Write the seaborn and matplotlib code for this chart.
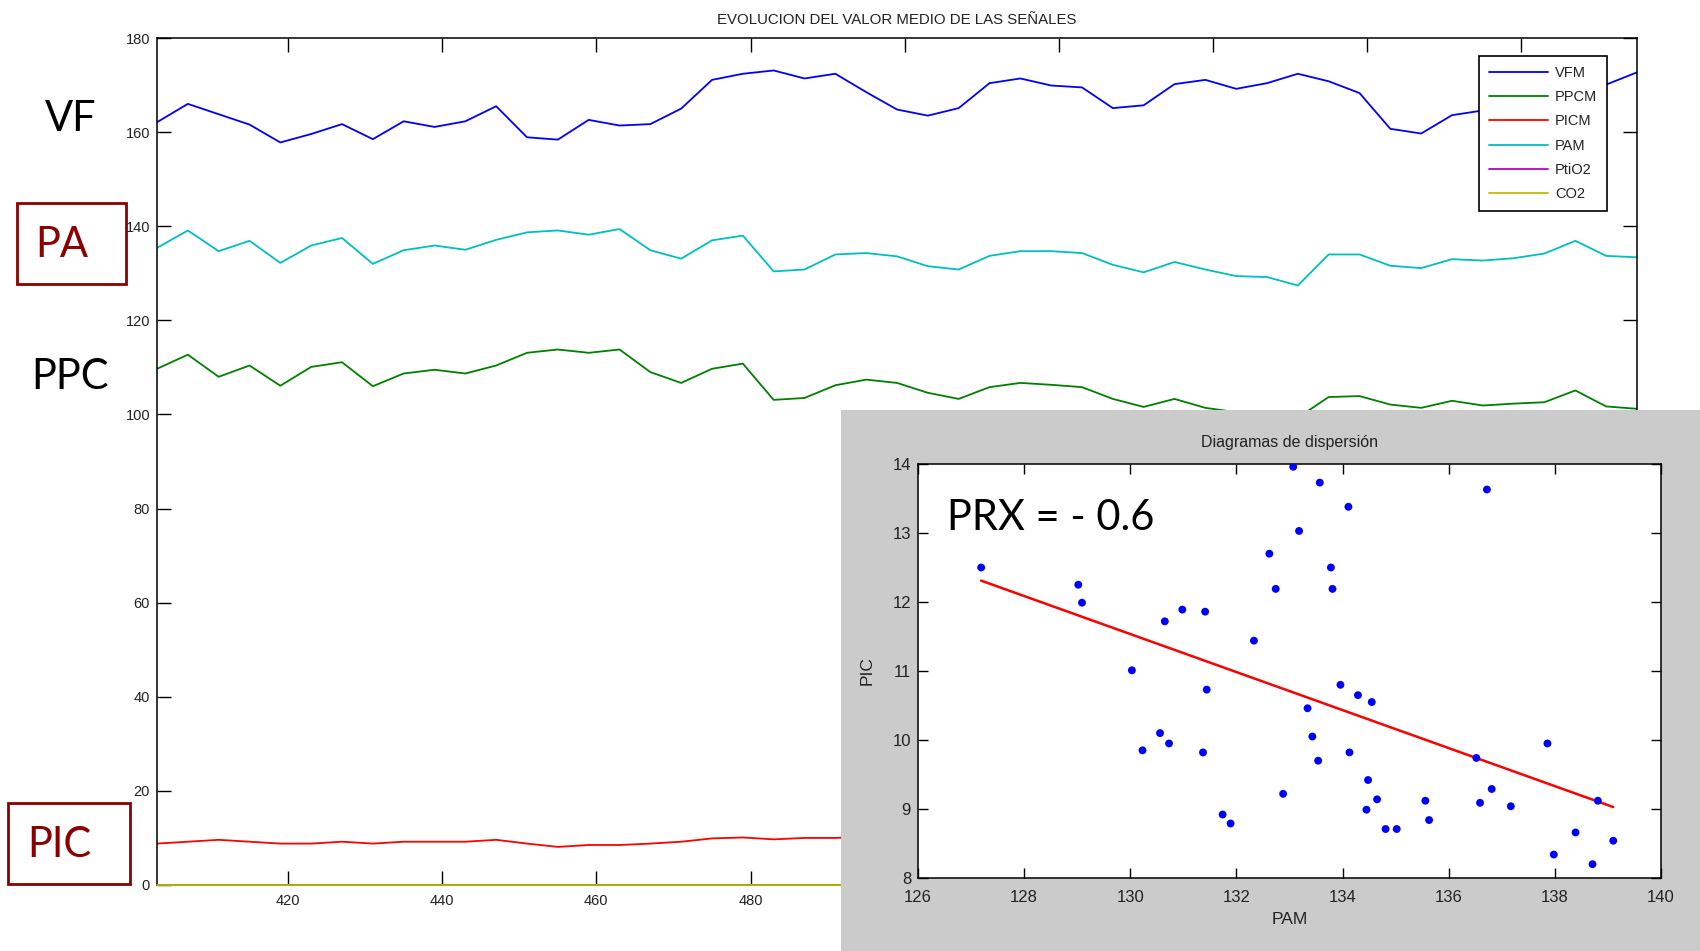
import numpy as np
import pandas as pd
import matplotlib
matplotlib.use("Agg")
import matplotlib.pyplot as plt
import seaborn as sns
from matplotlib.patches import Rectangle

# ---------------- data ----------------
time = np.arange(403, 596, 4)  # 49 samples

vfm = [162.1, 166.0, 163.8, 161.6, 157.8, 159.6, 161.7, 158.5, 162.3, 161.1,
       162.3, 165.5, 158.9, 158.4, 162.6, 161.4, 161.7, 165.0, 171.1, 172.4,
       173.1, 171.4, 172.4, 168.5, 164.8, 163.5, 165.1, 170.4, 171.4, 169.9,
       169.5, 165.1, 165.7, 170.2, 171.1, 169.2, 170.4, 172.4, 170.8, 168.3,
       160.7, 159.7, 163.6, 164.6, 165.0, 166.5, 168.0, 170.1, 172.7]

ppcm = [109.7, 112.7, 108.0, 110.4, 106.1, 110.1, 111.1, 106.0, 108.7, 109.5,
        108.7, 110.4, 113.1, 113.8, 113.1, 113.8, 109.0, 106.7, 109.7, 110.8,
        103.1, 103.5, 106.2, 107.4, 106.7, 104.6, 103.3, 105.8, 106.7, 106.3,
        105.8, 103.3, 101.6, 103.3, 101.4, 100.5, 100.3, 99.3, 103.7, 103.9,
        102.1, 101.4, 102.9, 101.9, 102.3, 102.6, 105.1, 101.7, 101.2]

picm = [8.8, 9.2, 9.6, 9.2, 8.8, 8.8, 9.2, 8.8, 9.2, 9.2,
        9.2, 9.6, 8.8, 8.1, 8.5, 8.5, 8.8, 9.2, 9.9, 10.1,
        9.7, 10.0, 10.0, 10.3, 10.8, 11.2, 10.6, 10.1, 9.8, 10.4,
        10.9, 11.5, 12.2, 11.0, 10.5, 10.2, 9.6, 9.1, 9.4, 9.0,
        8.8, 9.1, 9.3, 8.9, 8.6, 8.4, 8.3, 8.6, 8.5]

pam = [135.4, 139.1, 134.7, 136.9, 132.2, 135.9, 137.5, 132.0, 134.9, 135.9,
       135.0, 137.1, 138.7, 139.1, 138.2, 139.4, 134.9, 133.1, 137.0, 138.0,
       130.4, 130.8, 134.0, 134.3, 133.6, 131.5, 130.8, 133.7, 134.7, 134.7,
       134.3, 131.8, 130.2, 132.4, 130.8, 129.4, 129.2, 127.4, 134.0, 134.0,
       131.6, 131.1, 133.0, 132.7, 133.2, 134.2, 136.9, 133.7, 133.4]

ptio2 = [0.0] * 49
co2 = [0.0] * 49

# scatter (PAM vs PIC)
sc_pam = [127.19, 129.02, 129.09, 130.03, 130.23, 130.56, 130.65, 130.73, 130.98, 131.37,
          131.41, 131.44, 131.74, 131.89, 132.33, 132.62, 132.74, 132.88, 133.07, 133.18,
          133.34, 133.43, 133.54, 133.57, 133.78, 133.81, 133.96, 134.11, 134.13, 134.29,
          134.45, 134.48, 134.55, 134.65, 134.81, 135.02, 135.56, 135.63, 136.52, 136.59,
          136.72, 136.81, 137.17, 137.86, 137.98, 138.39, 138.71, 138.81, 139.10]
sc_pic = [12.50, 12.25, 11.99, 11.01, 9.85, 10.10, 11.72, 9.95, 11.89, 9.82,
          11.86, 10.73, 8.92, 8.79, 11.44, 12.70, 12.19, 9.22, 13.96, 13.03,
          10.46, 10.05, 9.70, 13.73, 12.50, 12.19, 10.80, 13.38, 9.82, 10.65,
          8.99, 9.42, 10.55, 9.14, 8.71, 8.71, 9.12, 8.84, 9.74, 9.09,
          13.63, 9.29, 9.04, 9.95, 8.34, 8.66, 8.20, 9.12, 8.54]

main_yticks = [0, 20, 40, 60, 80, 100, 120, 140, 160, 180]
main_xticks = [420, 440, 460, 480, 500, 520, 540, 560, 580]
sc_xticks = [126, 128, 130, 132, 134, 136, 138, 140]
sc_yticks = [8, 9, 10, 11, 12, 13, 14]

# ---------------- style ----------------
sns.set_style("ticks")
plt.rcParams['font.family'] = ['Liberation Sans', 'DejaVu Sans']
TXT = '#222222'

W, H = 1700, 951
fig = plt.figure(figsize=(W / 100, H / 100), dpi=100)
fig.patch.set_facecolor('white')

def fx(px):
    return px / W

def fy(py):
    return 1 - py / H

# ---------------- main axes ----------------
ax = fig.add_axes([fx(157), fy(885), fx(1637) - fx(157), fy(38) - fy(885)])
ax.set_zorder(0)
series = [("VFM", vfm, '#0000ff'), ("PPCM", ppcm, '#008000'), ("PICM", picm, '#ff0000'),
          ("PAM", pam, '#00bfbf'), ("PtiO2", ptio2, '#bf00bf'), ("CO2", co2, '#bfbf00')]
for name, vals, col in series:
    z = 3 if name == "CO2" else 2
    sns.lineplot(x=time, y=vals, ax=ax, color=col, lw=1.3, label=name, zorder=z,
                 clip_on=(name not in ("CO2", "PtiO2")))
ax.set_xlim(time[0], time[-1])
ax.set_ylim(0, 180)
ax.set_xticks(main_xticks)
ax.set_yticks(main_yticks)
ax.tick_params(direction='in', length=10, width=1.0, top=True, right=True,
               labelsize=10.5, colors='black', labelcolor=TXT, pad=5)
ax.tick_params(axis='x', pad=6.5)
for s in ax.spines.values():
    s.set_linewidth(1.1)
    s.set_color('black')
ax.set_xlabel('')
ax.set_ylabel('')
# labels for ticks lying beneath the inset panel are hidden (covered in the original)
for val, lab in zip(main_xticks, ax.get_xticklabels()):
    if val >= 500:
        lab.set_visible(False)
leg = ax.legend(loc='upper right', bbox_to_anchor=(0.980, 0.979), borderaxespad=0,
                fontsize=10.5, frameon=True, fancybox=False,
                framealpha=1, edgecolor='black', handlelength=4.0, handletextpad=0.5,
                labelspacing=0.7, borderpad=0.7)
leg.get_frame().set_linewidth(1.2)
for t in leg.get_texts():
    t.set_color(TXT)

fig.text(fx(897), fy(19.5), "EVOLUCION DEL VALOR MEDIO DE LAS SEÑALES", ha='center',
         va='center', fontsize=10.8, color=TXT)

# side labels
big = dict(fontsize=30, family=['Lato', 'DejaVu Sans'], va='baseline', ha='center')
fig.text(fx(71), fy(131), "VF", color='black', **big)
fig.text(fx(70), fy(389), "PPC", color='black', **big)
fig.text(fx(62), fy(257), "PA", color='#8b0000', **big)
fig.text(fx(59), fy(857), "PIC", color='#8b0000', **big)
for (x0, y0, x1, y1) in [(17, 203, 126, 284), (8, 803, 130, 884)]:
    fig.add_artist(Rectangle((fx(x0), fy(y1)), fx(x1) - fx(x0), fy(y0) - fy(y1),
                             transform=fig.transFigure, fill=False, ec='#8b0000', lw=2.0))

# ---------------- inset panel ----------------
ax_bg = fig.add_axes([fx(841), 0, 1 - fx(841), fy(410)])
ax_bg.set_zorder(2)
ax_bg.set_facecolor('#cbcbcb')
ax_bg.set_xticks([])
ax_bg.set_yticks([])
for s in ax_bg.spines.values():
    s.set_visible(False)

ax2 = fig.add_axes([fx(918), fy(878), fx(1661) - fx(918), fy(464) - fy(878)])
ax2.set_zorder(3)
ax2.set_facecolor('white')
sns.scatterplot(x=sc_pam, y=sc_pic, ax=ax2, color='#0000ff', s=32, edgecolor='none', zorder=3)
sns.regplot(x=np.array(sc_pam), y=np.array(sc_pic), ax=ax2, scatter=False, ci=None,
            truncate=True, color='#ff0000', line_kws=dict(lw=1.8, zorder=2))
ax2.set_xlim(126, 140)
ax2.set_ylim(8, 14)
ax2.set_xticks(sc_xticks)
ax2.set_yticks(sc_yticks)
ax2.tick_params(direction='in', length=7, width=1.0, top=True, right=True,
                labelsize=12, colors='black', labelcolor=TXT, pad=5)
ax2.tick_params(axis='x', pad=8.5)
for s in ax2.spines.values():
    s.set_linewidth(1.1)
    s.set_color('black')
ax2.set_title("Diagramas de dispersión", fontsize=11.5, color=TXT, pad=12.5)
ax2.set_xlabel("PAM", fontsize=12.5, color=TXT, labelpad=5)
ax2.set_ylabel("PIC", fontsize=12.5, color=TXT, labelpad=13)
ax2.text(fx(947), fy(530), "PRX = - 0.6", transform=fig.transFigure, fontsize=30,
         family=['Lato', 'DejaVu Sans'], va='baseline', ha='left', color='black', zorder=5)

fig.savefig("out.png", dpi=100)
